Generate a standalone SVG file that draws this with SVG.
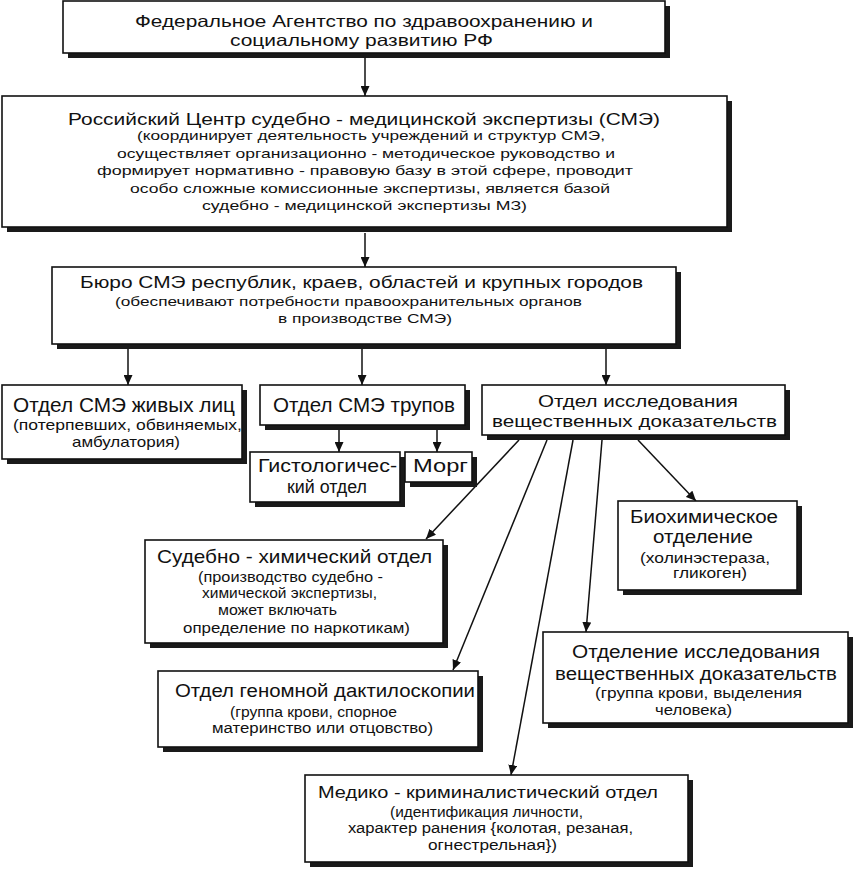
<svg xmlns="http://www.w3.org/2000/svg" width="855" height="869" viewBox="0 0 855 869">
<defs>
<style>
.sh{fill:#1a1a1a}
.bx{fill:#fff;stroke:#111;stroke-width:1.6}
text{font-family:"Liberation Sans",Arial,sans-serif;fill:#111;text-anchor:middle}
.t20{font-size:20px}.t19{font-size:19px}.t18{font-size:18px}.t17{font-size:17px}.t165{font-size:16.5px}.t16{font-size:16px}.t15{font-size:15px}.t14{font-size:14px}.t13{font-size:13.5px}
.c{stroke:#111;stroke-width:1.5;fill:none;marker-end:url(#ah)}
</style>
<marker id="ah" markerUnits="userSpaceOnUse" markerWidth="10" markerHeight="9" refX="10" refY="4.5" orient="auto"><path d="M0,0 L10,4.5 L0,9 z" fill="#111"/></marker>
</defs>
<rect width="855" height="869" fill="#fff"/>
<g id="connectors">
<path class="c" d="M365,58 L365,96"/>
<path class="c" d="M365,233 L365,267"/>
<path class="c" d="M128,349 L128,385"/>
<path class="c" d="M362,349 L362,385"/>
<path class="c" d="M606,349 L606,385"/>
<path class="c" d="M339,430 L339,452"/>
<path class="c" d="M437,430 L437,452"/>
<path class="c" d="M519,440 L426,539"/>
<path class="c" d="M547,440 L453,670"/>
<path class="c" d="M573,440 L511,775"/>
<path class="c" d="M602,440 L586,632"/>
<path class="c" d="M638,440 L696,501"/>
</g>
<g id="n-federal">
<rect class="sh" x="68" y="6" width="602" height="52"/>
<rect class="bx" x="63" y="1" width="602" height="52"/>
<text class="t165" x="364" y="27" textLength="458" lengthAdjust="spacingAndGlyphs">Федеральное Агентство по здравоохранению и</text>
<text class="t165" x="361.5" y="45.5" textLength="263" lengthAdjust="spacingAndGlyphs">социальному развитию РФ</text>
</g>
<g id="n-center">
<rect class="sh" x="7" y="101" width="725" height="131"/>
<rect class="bx" x="2" y="96" width="725" height="131"/>
<text class="t16" x="364" y="125" textLength="592" lengthAdjust="spacingAndGlyphs">Российский Центр судебно - медицинской экспертизы (СМЭ)</text>
<text class="t13" x="371" y="140" textLength="468" lengthAdjust="spacingAndGlyphs">(координирует деятельность учреждений и структур СМЭ,</text>
<text class="t13" x="366" y="157.5" textLength="498" lengthAdjust="spacingAndGlyphs">осуществляет организационно - методическое руководство и</text>
<text class="t13" x="365" y="175" textLength="536" lengthAdjust="spacingAndGlyphs">формирует нормативно - правовую базу в этой сфере, проводит</text>
<text class="t13" x="370" y="192.5" textLength="480" lengthAdjust="spacingAndGlyphs">особо сложные комиссионные экспертизы, является базой</text>
<text class="t13" x="364.5" y="210" textLength="325" lengthAdjust="spacingAndGlyphs">судебно - медицинской экспертизы МЗ)</text>
</g>
<g id="n-bureau">
<rect class="sh" x="57" y="272" width="624" height="77"/>
<rect class="bx" x="52" y="267" width="624" height="77"/>
<text class="t16" x="361.5" y="288" textLength="563" lengthAdjust="spacingAndGlyphs">Бюро СМЭ республик, краев, областей и крупных городов</text>
<text class="t13" x="348.5" y="306" textLength="467" lengthAdjust="spacingAndGlyphs">(обеспечивают потребности правоохранительных органов</text>
<text class="t13" x="365" y="323" textLength="174" lengthAdjust="spacingAndGlyphs">в производстве СМЭ)</text>
</g>
<g id="n-living">
<rect class="sh" x="7" y="390" width="240" height="74"/>
<rect class="bx" x="2" y="385" width="240" height="74"/>
<text class="t20" x="124" y="412" textLength="222" lengthAdjust="spacingAndGlyphs">Отдел СМЭ живых лиц</text>
<text class="t15" x="127.5" y="430" textLength="229" lengthAdjust="spacingAndGlyphs">(потерпевших, обвиняемых,</text>
<text class="t15" x="126" y="447" textLength="108" lengthAdjust="spacingAndGlyphs">амбулатория)</text>
</g>
<g id="n-corpses">
<rect class="sh" x="265" y="390" width="205" height="40"/>
<rect class="bx" x="260" y="385" width="205" height="40"/>
<text class="t20" x="364" y="412" textLength="182" lengthAdjust="spacingAndGlyphs">Отдел СМЭ трупов</text>
</g>
<g id="n-histo">
<rect class="sh" x="255" y="457" width="150" height="50"/>
<rect class="bx" x="250" y="452" width="150" height="50"/>
<text class="t18" x="327.5" y="472" textLength="139" lengthAdjust="spacingAndGlyphs">Гистологичес-</text>
<text class="t18" x="327" y="493" textLength="80" lengthAdjust="spacingAndGlyphs">кий отдел</text>
</g>
<g id="n-morgue">
<rect class="sh" x="410" y="457" width="67" height="30"/>
<rect class="bx" x="405" y="452" width="67" height="30"/>
<text class="t18" x="440.5" y="472" textLength="55" lengthAdjust="spacingAndGlyphs">Морг</text>
</g>
<g id="n-evidence-dept">
<rect class="sh" x="487" y="390" width="303" height="50"/>
<rect class="bx" x="482" y="385" width="303" height="50"/>
<text class="t17" x="638" y="407" textLength="200" lengthAdjust="spacingAndGlyphs">Отдел исследования</text>
<text class="t17" x="634.5" y="427" textLength="285" lengthAdjust="spacingAndGlyphs">вещественных доказательств</text>
</g>
<g id="n-biochem">
<rect class="sh" x="623" y="506" width="179" height="89"/>
<rect class="bx" x="618" y="501" width="179" height="89"/>
<text class="t18" x="704" y="523" textLength="148" lengthAdjust="spacingAndGlyphs">Биохимическое</text>
<text class="t18" x="703" y="543" textLength="100" lengthAdjust="spacingAndGlyphs">отделение</text>
<text class="t14" x="705" y="563" textLength="130" lengthAdjust="spacingAndGlyphs">(холинэстераза,</text>
<text class="t14" x="710" y="578" textLength="74" lengthAdjust="spacingAndGlyphs">гликоген)</text>
</g>
<g id="n-forensic-chem">
<rect class="sh" x="150" y="545" width="298" height="103"/>
<rect class="bx" x="145" y="540" width="298" height="103"/>
<text class="t19" x="294.5" y="563" textLength="275" lengthAdjust="spacingAndGlyphs">Судебно - химический отдел</text>
<text class="t15" x="290.5" y="582" textLength="185" lengthAdjust="spacingAndGlyphs">(производство судебно -</text>
<text class="t15" x="289.5" y="598" textLength="175" lengthAdjust="spacingAndGlyphs">химической экспертизы,</text>
<text class="t15" x="277.5" y="615" textLength="119" lengthAdjust="spacingAndGlyphs">может включать</text>
<text class="t15" x="296.5" y="633" textLength="227" lengthAdjust="spacingAndGlyphs">определение по наркотикам)</text>
</g>
<g id="n-evidence-section">
<rect class="sh" x="548" y="637" width="305" height="91"/>
<rect class="bx" x="543" y="632" width="305" height="91"/>
<text class="t18" x="696" y="658" textLength="248" lengthAdjust="spacingAndGlyphs">Отделение исследования</text>
<text class="t18" x="696" y="680" textLength="282" lengthAdjust="spacingAndGlyphs">вещественных доказательств</text>
<text class="t14" x="698.5" y="698" textLength="207" lengthAdjust="spacingAndGlyphs">(группа крови, выделения</text>
<text class="t14" x="693.5" y="715" textLength="77" lengthAdjust="spacingAndGlyphs">человека)</text>
</g>
<g id="n-genomic">
<rect class="sh" x="163" y="676" width="320" height="76"/>
<rect class="bx" x="158" y="671" width="320" height="76"/>
<text class="t18" x="325" y="697" textLength="300" lengthAdjust="spacingAndGlyphs">Отдел геномной дактилоскопии</text>
<text class="t14" x="313.5" y="717" textLength="167" lengthAdjust="spacingAndGlyphs">(группа крови, спорное</text>
<text class="t14" x="322.5" y="733" textLength="221" lengthAdjust="spacingAndGlyphs">материнство или отцовство)</text>
</g>
<g id="n-medcrim">
<rect class="sh" x="310" y="780" width="383" height="87"/>
<rect class="bx" x="305" y="775" width="383" height="87"/>
<text class="t17" x="488" y="798" textLength="340" lengthAdjust="spacingAndGlyphs">Медико - криминалистический отдел</text>
<text class="t14" x="486.5" y="817" textLength="193" lengthAdjust="spacingAndGlyphs">(идентификация личности,</text>
<text class="t14" x="490.5" y="833" textLength="285" lengthAdjust="spacingAndGlyphs">характер ранения {колотая, резаная,</text>
<text class="t14" x="492.5" y="850" textLength="129" lengthAdjust="spacingAndGlyphs">огнестрельная})</text>
</g>
</svg>
